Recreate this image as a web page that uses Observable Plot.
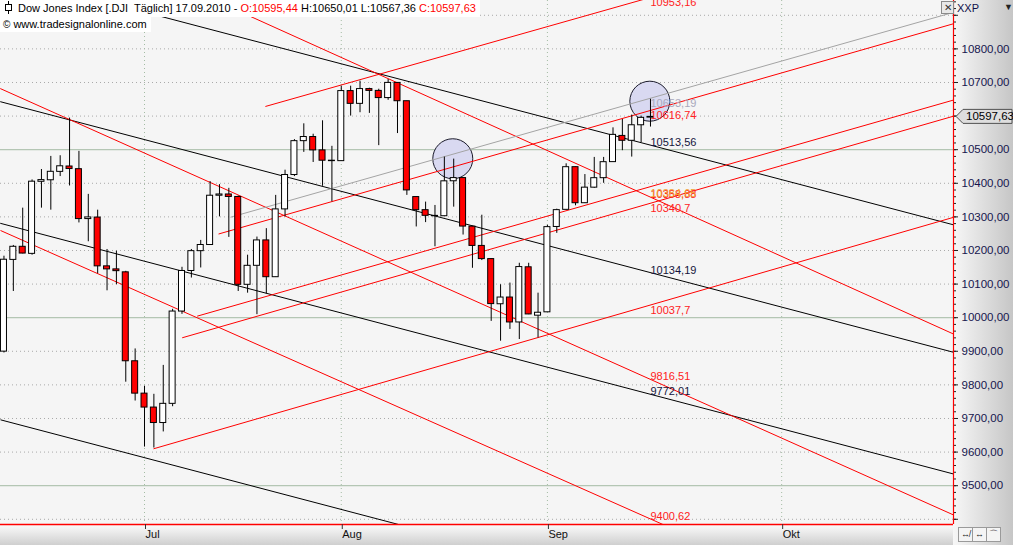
<!DOCTYPE html>
<html><head><meta charset="utf-8">
<script src="https://cdn.jsdelivr.net/npm/d3@7"></script>
<script src="https://cdn.jsdelivr.net/npm/@observablehq/plot@0.6"></script>
<style>
html,body{margin:0;padding:0;background:#fff;}
#wrap{position:relative;width:1013px;height:545px;overflow:hidden;font-family:"Liberation Sans",Arial,sans-serif;font-size:11px;
 background:
  linear-gradient(to bottom,#fdfdfd,#cfcfcf) 0px 524px / 953px 21px no-repeat,
  linear-gradient(to right,#f7f7f7,#c6c6c6) 953px 0px / 60px 545px no-repeat,
  #f5f5f5;}
#wrap svg.plot{position:absolute;left:0;top:0;}
.ov{position:absolute;white-space:nowrap;line-height:15px;}
#h1{left:0;top:0;height:16px;background:#fff;padding:1px 4px 0 3px;color:#000;}
#h2{left:0;top:17px;height:15px;background:#fff;padding:0 4px 0 3px;color:#000;}
.red{color:#f00;}
#xxp{left:957px;top:1px;color:#10104a;}
#arr{left:1004px;top:0px;font-size:9px;color:#222;}
#cls{left:941px;top:1px;width:11px;height:11px;border:1px solid #8a8a8a;background:#e8e8e8;font-size:10px;line-height:11px;text-align:center;color:#333;}
.btn{position:absolute;top:527px;width:13px;height:13px;border:1px solid #9a9a9a;background:#f4f4f4;font-size:9px;line-height:13px;text-align:center;color:#222;}
</style></head>
<body>
<div id="wrap">
</div>
<script>
// ---------- data ----------
const dates = ["10.06","11.06","14.06","15.06","16.06","17.06","18.06","21.06","22.06","23.06","24.06","25.06","28.06","29.06","30.06",
"01.07","02.07","06.07","07.07","08.07","09.07","12.07","13.07","14.07","15.07","16.07","19.07","20.07","21.07","22.07","23.07","26.07","27.07","28.07","29.07","30.07",
"02.08","03.08","04.08","05.08","06.08","09.08","10.08","11.08","12.08","13.08","16.08","17.08","18.08","19.08","20.08","23.08","24.08","25.08","26.08","27.08","30.08","31.08",
"01.09","02.09","03.09","07.09","08.09","09.09","10.09","13.09","14.09","15.09","16.09","17.09"];
const firstIndex = -15; // 10.06 is 15 trading days before 01.07

const open = [9899,10172,10211,10190,10404.5,10409,10434,10450,10442,10293.5,10298,10152.8,10143.8,10135,9870.3,
9774,9732.5,9686.5,9743.6,10018.3,10139,10198,10216.3,10363,10366.7,10359.3,10097.9,10154.4,10230,10120.5,10322.3,10424.6,10525.4,10537.7,10497.9,10467.2,
10465.9,10674.4,10636.4,10680.4,10675,10653.6,10698.75,10644.25,10359,10320,10303,10302,10406,10415.5,10271,10213.6,10174.4,10040,10060,9985.8,10150,10006,
10016,10270,10321,10448,10340.7,10387,10415.2,10463,10541,10526.5,10572.7,10595.44];
const high = [10183,10215,10326,10410,10441,10480,10482,10594,10495,10367,10320,10203,10198,10138,9907,
9796,9772,9858,10025,10150,10203,10230,10405,10396,10385,10362,10186,10240,10265,10364,10439,10530,10577,10546,10586,10510,
10689,10689,10704,10683,10680,10709,10699,10644,10359,10344,10334,10478,10472,10416,10272,10305,10175,10098,10103,10162,10162,10073,
10275,10323,10458,10448,10426,10477,10477,10565,10590,10603,10600,10650.01];
const low = [9895,10078,10190,10186,10326,10320,10420,10392,10282,10226,10131,10080,10098,9808,9752,
9615,9612,9660,9735,10010,10118,10148,10216,10300,10239,10078,10073,10009,10071,10120,10300,10420,10492,10462,10391,10345,
10466,10600,10610,10608,10512,10647,10548,10364,10270,10283,10211,10302,10329,10246,10147,10170,9989,9930,9965,9935,10009,9940,
10016,10251,10321,10333,10340,10385,10400,10463,10497,10478,10521,10567.36];
const close = [10172.5,10211,10190.9,10404.8,10409.5,10434.2,10450.6,10442.4,10293.5,10298.4,10152.8,10143.8,10138.5,9870.3,9774,
9732.5,9686.5,9743.6,10018.3,10139,10198,10216.3,10363,10366.7,10359.3,10097.9,10154.4,10230,10120.5,10322.3,10424.6,10525.4,10537.7,10497.9,10467.2,10465.9,
10674.4,10636.4,10680.4,10675,10653.6,10698.75,10644.25,10378.8,10320,10303.2,10302,10405.85,10415.5,10271.2,10213.6,10174.4,10040.45,10060,9985.8,10150.65,10009.7,10014.7,
10269.5,10320.1,10447.9,10340.7,10387,10415.2,10462.8,10544.1,10526.5,10572.7,10594.8,10597.63];

// trend lines: start/end in (bar index, price)
const lineColor = ["#000","#000","#000","#000","#f00","#f00","#f00","#f00","#f00","#f00","#f00","#f00","#a4a4a4"];
const lineX1 = [-15.4,-15.4,-15.4,-15.37,-15.4,-15.37,-15.4,12.9,7.9,0.96,4.02,5.62,9.18];
const lineV1 = [11022.5,10642.9,10281,9696.1,10682,10259.5,11233,10628.6,10249,9609.8,9940.2,10004.5,10299];
const lineX2 = [86.4,86.4,86.4,86.4,86.4,86.4,86.4,86.4,86.4,86.4,86.4,86.4,86.4];
const lineV2 = [10275.9,9896.6,9534.4,8949.7,9412.2,9000,9950.6,11209,10875.3,10299.2,10600.2,10648.2,10909.2];
const lineLabel = ["10513,56","10134,19","9772,01",null,"9816,51","9400,62","10358,88","10953,16","10616,74","10037,7","10340,7","10384,65","10653,19"];
const lineLabelValue = [10513.56,10134.19,9772.01,null,9816.51,9400.62,10358.88,10953.16,10616.74,10037.7,10340.7,10384.65,10653.19];
const labelColor = ["#14143c","#14143c","#14143c",null,"#f22","#f22","#f22","#f22","#f22","#f22","#f22","#f2a030","#a8a8bc"];
const labelBar = 54;

// highlight circles (bar index, price)
const circleX = [32.9, 53.93];
const circleV = [10473, 10644.3];

// axis
const yLabelTicks = [9500,9600,9700,9800,9900,10000,10100,10200,10300,10400,10500,10700,10800];
const yGrid = [9400,9500,9600,9700,9800,9900,10000,10100,10200,10300,10400,10500,10600,10700,10800,10900];
const ySolid = [9500,10000,10500];
const monthNames = ["Jul","Aug","Sep","Okt"];
const monthIndex = [0,21,43,68];
const lastPrice = 10597.63;

// ---------- build ----------
const candles = close.map((c,k)=>({i:k+firstIndex,date:dates[k],open:open[k],high:high[k],low:low[k],close:c}));
const lines = lineColor.map((c,k)=>({color:c,x1:lineX1[k],v1:lineV1[k],x2:lineX2[k],v2:lineV2[k],label:lineLabel[k],lv:lineLabelValue[k],lc:labelColor[k]}));
const labelsAbove = lines.filter(d=>d.label && d.v2<d.v1);
const labelsBelow = lines.filter(d=>d.label && d.v2>=d.v1);
const circles = circleX.map((x,k)=>({x, v:circleV[k]}));
const fmt = d => d.toFixed(2).replace(".", ",");
const minor = d3.range(9400, 10941, 20);
const monthMap = new Map(monthIndex.map((d,k)=>[d, monthNames[k]]));
const xDom = [-15.37, 86.34], yDom = [9384.5, 10944];

const plot = Plot.plot({
  width: 1013, height: 545,
  marginLeft: 0, marginRight: 60, marginTop: 0, marginBottom: 21,
  style: {background: "transparent", fontFamily: "Liberation Sans, Arial, sans-serif", fontSize: "11px", overflow: "visible"},
  x: {domain: xDom, axis: null},
  y: {domain: yDom, axis: null},
  color: {type: "identity"},
  marks: [
    Plot.frame({fill: "#f5f5f5", stroke: null}),
    Plot.ruleY(yGrid.filter(v=>!ySolid.includes(v)), {stroke: "#a9a9a9", strokeDasharray: "1 3"}),
    Plot.ruleY(ySolid, {stroke: "#b4c6b4", strokeWidth: 1.3}),
    Plot.ruleX(monthIndex, {stroke: "#a4bca4", strokeDasharray: "1 3"}),
    Plot.dot(circles, {x: "x", y: "v", r: 20, fill: "#d9d9f1", stroke: "#1a1a2a", strokeWidth: 1}),
    Plot.link(lines, {x1: "x1", y1: "v1", x2: "x2", y2: "v2", stroke: "color", strokeWidth: 1, clip: true}),
    Plot.ruleX(candles, {x: "i", y1: "low", y2: "high", stroke: "#000", strokeWidth: 1}),
    Plot.rect(candles, {x1: d=>d.i-0.32, x2: d=>d.i+0.32, y1: "open", y2: "close",
      fill: d => d.close < d.open ? "#ff0000" : "#ffffff", stroke: "#000", strokeWidth: 1}),
    Plot.text(labelsAbove, {x: ()=>labelBar, y: "lv", text: "label", fill: "lc", textAnchor: "start", lineAnchor: "bottom", dy: 1, fontSize: 11}),
    Plot.text(labelsBelow, {x: ()=>labelBar, y: "lv", text: "label", fill: "lc", textAnchor: "start", lineAnchor: "top", dy: 1, fontSize: 11}),
    Plot.ruleX([xDom[1]], {stroke: "#f00", strokeWidth: 1.2}),
    Plot.ruleY([yDom[0]], {stroke: "#f00", strokeWidth: 1.5}),
    Plot.axisY(minor, {anchor: "right", tickSize: 2, tickFormat: () => "", stroke: "#222"}),
    Plot.axisY(yGrid, {anchor: "right", tickSize: 4, tickPadding: 4, tickFormat: d => yLabelTicks.includes(d) ? fmt(d) : "", fill: "#16164e", stroke: "#222", fontSize: 11.5}),
    Plot.axisX(monthIndex, {anchor: "bottom", tickSize: 5, tickPadding: 1, tickFormat: d => monthMap.get(d), textAnchor: "start", dx: 1, fill: "#111", stroke: "#333", fontSize: 11})
  ]
});

const wrap = document.getElementById("wrap");
wrap.append(plot);

// last price marker on the axis, positioned with Plot's y scale
const ys = plot.scale("y").apply(lastPrice);
const svg = d3.select(plot);
const mk = svg.append("g").attr("class","price-marker");
mk.append("path")
  .attr("d", `M956,${ys} L963,${ys-7} L1012,${ys-7} L1012,${ys+7} L963,${ys+7} Z`)
  .style("fill","#dedede").style("stroke","#505050").style("stroke-width","1px");
mk.append("text").attr("x",966).attr("y",ys+4)
  .style("text-anchor","start").style("font-size","11.5px").style("fill","#000").text(fmt(lastPrice));

// header overlays
function ov(id, html){ const d=document.createElement("div"); d.className="ov"; d.id=id; d.innerHTML=html; wrap.append(d); return d; }
ov("h1", '<svg width="11" height="13" style="vertical-align:-2px;margin-right:4px"><line x1="5.5" y1="0" x2="5.5" y2="13" stroke="#000"/><rect x="2.5" y="3.5" width="6" height="6" fill="#fff" stroke="#000"/></svg>Dow Jones Index [.DJI&nbsp; Täglich] 17.09.2010 - <span class="red">O:10595,44</span> H:10650,01 L:10567,36 <span class="red">C:10597,63</span>');
ov("h2", '<span style="font-size:10px;margin-right:3px">©</span>www.tradesignalonline.com');
ov("xxp", 'XXP');
ov("arr", '▼');
ov("cls", '✕');
[["958px","↮"],["972px","↔"],["986px","⌒"]].forEach(([l,t])=>{const b=document.createElement("div");b.className="btn";b.style.left=l;b.textContent=t;wrap.append(b);});
</script>
</body></html>
